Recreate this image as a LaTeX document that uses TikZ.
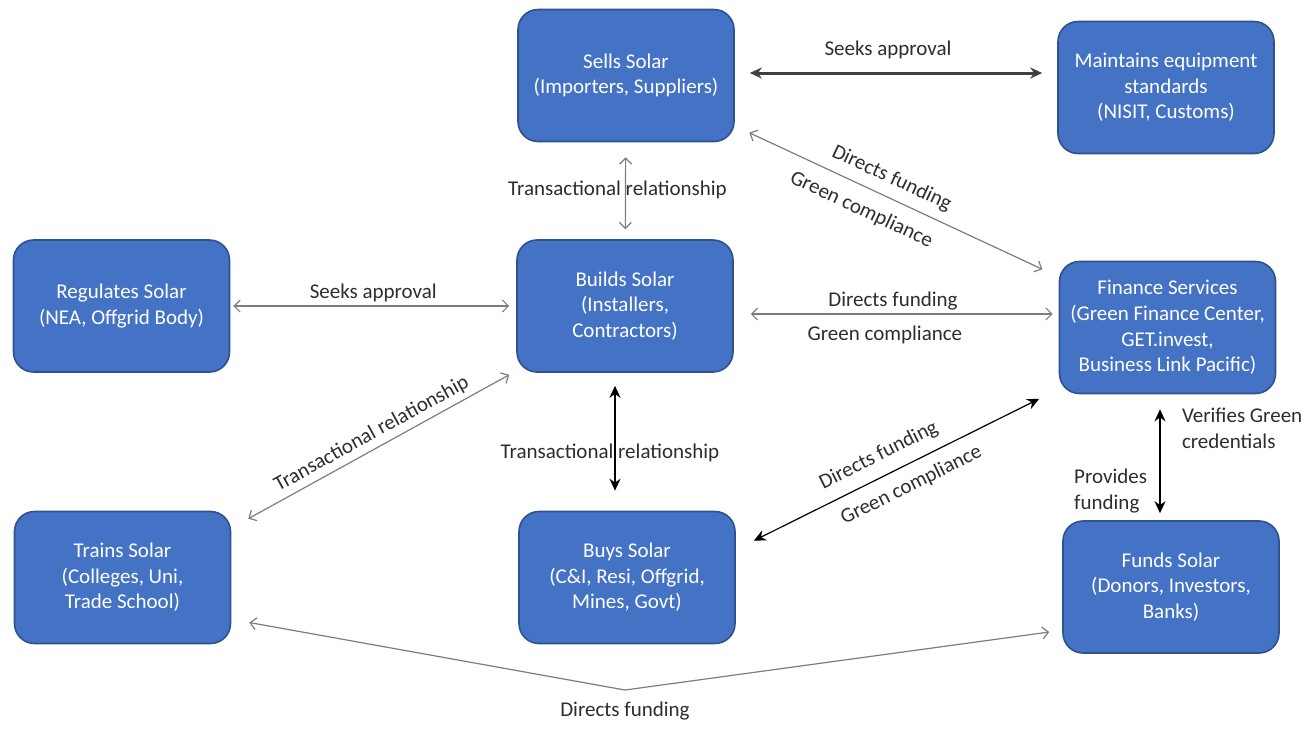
\documentclass[tikz,border=0pt]{standalone}
\usepackage{fontspec}
\setmainfont{Carlito}
\usepackage{xcolor}
\usetikzlibrary{arrows.meta}

\definecolor{boxblue}{RGB}{68,114,196}
\definecolor{boxedge}{RGB}{47,82,143}
\definecolor{linkgray}{RGB}{125,125,125}
\definecolor{labelgray}{RGB}{45,45,45}

\tikzset{
 solarbox/.style={rectangle, rounded corners=10pt, fill=boxblue, draw=boxedge, line width=0.8pt, text=white, align=center, minimum width=108pt, minimum height=66pt, inner sep=2pt, font=\fontsize{10.5}{12.8}\selectfont},
 thinlink/.style={{Straight Barb[length=3pt,width=6pt]}-{Straight Barb[length=3pt,width=6pt]}, draw=linkgray, line width=0.6pt},
 boldlink/.style={{Stealth[length=6pt,width=5.5pt]}-{Stealth[length=6pt,width=5.5pt]}, draw=black, line width=1pt},
 linklabel/.style={font=\fontsize{10.5}{12.8}\selectfont, text=labelgray, inner sep=1.5pt, align=left},
}

\begin{document}
\begin{tikzpicture}[x=0.5pt, y=-0.5pt]
 \useasboundingbox (0,0) rectangle (1305,751);
 \begin{scope}[every node/.style={solarbox}]
   \node (sells) at (626,75.5) {Sells Solar\\(Importers, Suppliers)};
   \node (maint) at (1166,87.5) {Maintains equipment\\standards\\(NISIT, Customs)};
   \node (reg) at (121.5,306) {Regulates Solar\\(NEA, Offgrid Body)};
   \node (builds) at (625,306) {Builds Solar\\(Installers,\\Contractors)};
   \node (finance) at (1167.5,327.5) {Finance Services\\(Green Finance Center,\\GET.invest,\\Business Link Pacific)};
   \node (trains) at (122.5,577.5) {Trains Solar\\(Colleges, Uni,\\Trade School)};
   \node (buys) at (627,577.5) {Buys Solar\\(C\&I, Resi, Offgrid,\\Mines, Govt)};
   \node (funds) at (1171,587) {Funds Solar\\(Donors, Investors,\\Banks)};
 \end{scope}

 \coordinate (sm) at ([yshift=1.25pt]sells.east);
 \draw[boldlink, draw=black!75, line width=1.5pt, shorten <=7.5pt, shorten >=7.5pt] (sm) -- (sm -| maint.west)
   node[linklabel, midway, above=5pt, xshift=-4pt] {Seeks approval};
 \draw[thinlink, shorten <=7.5pt, shorten >=5pt] (sells) -- (builds)
   node[linklabel, pos=0.49, xshift=-4pt] {Transactional relationship};
 \draw[thinlink, shorten <=8pt, shorten >=9pt] (sells) -- (finance)
   node[linklabel, sloped, pos=0.46, above=3pt] {Directs funding}
   node[linklabel, sloped, pos=0.42, below=5pt] {Green compliance};
 \draw[thinlink, shorten <=1.5pt, shorten >=3.5pt] (reg) -- (builds)
   node[linklabel, midway, above=0.5pt] {Seeks approval};
 \coordinate (bf) at ([yshift=-4pt]builds.east);
 \draw[thinlink, shorten <=8.5pt, shorten >=3pt] (bf) -- (bf -| finance.west)
   node[linklabel, pos=0.49, above=0pt] {Directs funding}
   node[linklabel, pos=0.465, below=4pt] {Green compliance};
 \coordinate (bb) at ([xshift=-5pt]builds.south);
 \draw[boldlink, shorten <=6.5pt, shorten >=10pt] (bb) -- (bb |- buys.north)
   node[linklabel, pos=0.58, xshift=-2.5pt] {Transactional relationship};
 \draw[thinlink] ([shift={(17,8)}]trains.north east) -- ([shift={(-7,2)}]builds.south west)
   node[linklabel, sloped, midway, above=1pt] {Transactional relationship};
 \draw[boldlink, line width=0.6pt] ([shift={(18,30)}]buys.north east) -- ([shift={(-19.5,4.5)}]finance.south west)
   node[linklabel, sloped, pos=0.47, above=4pt] {Directs funding}
   node[linklabel, sloped, pos=0.52, below=4pt] {Green compliance};
 \coordinate (ff) at ([xshift=-3.75pt]finance.south);
 \draw[boldlink, shorten <=7.5pt, shorten >=3.5pt] (ff) -- (ff |- funds.north)
   node[linklabel, pos=0.27, anchor=west, xshift=9pt] {Verifies Green\\credentials}
   node[linklabel, pos=0.77, anchor=east, xshift=-4.5pt] {Provides\\funding};
 \coordinate (pivot) at (625,690);
 \draw[thinlink] ([shift={(18,45)}]trains.east) -- (pivot) -- ([shift={(-13,45)}]funds.west);
 \node[linklabel, below=4.5pt] (dflabel) at (pivot) {Directs funding};
\end{tikzpicture}
\end{document}
